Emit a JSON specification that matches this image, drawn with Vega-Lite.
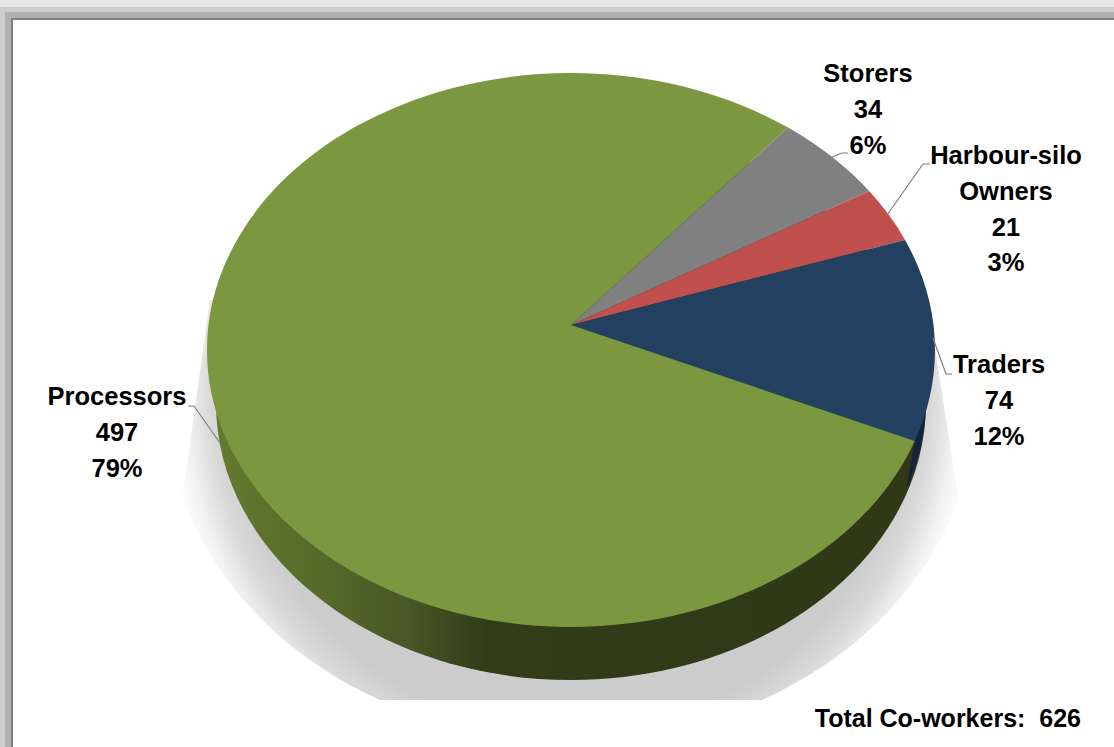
{
  "$schema": "https://vega.github.io/schema/vega-lite/v6.json",
  "width": 1114,
  "height": 747,
  "autosize": {"type": "fit", "contains": "padding"},
  "padding": 0,
  "background": "#ffffff",
  "config": {"view": {"stroke": null}},
  "data": {
    "values": [
      {"segment": "Storers", "count": 34, "share": 6, "order": 1},
      {"segment": "Harbour-silo Owners", "count": 21, "share": 3, "order": 2},
      {"segment": "Traders", "count": 74, "share": 12, "order": 3},
      {"segment": "Processors", "count": 497, "share": 79, "order": 4}
    ]
  },
  "transform": [
    {"joinaggregate": [{"op": "sum", "field": "count", "as": "total"}]},
    {"window": [{"op": "sum", "field": "count", "as": "cum"}], "sort": [{"field": "order", "order": "ascending"}]},
    {"calculate": "(50.2 - 360 * (datum.cum - datum.count) / datum.total) * PI / 180", "as": "t0"},
    {"calculate": "(50.2 - 360 * datum.cum / datum.total) * PI / 180", "as": "t1"},
    {"calculate": "round(3625000 * cos(datum.t0) / (1 + 0.0903 * sin(datum.t0))) / 10000", "as": "x0"},
    {"calculate": "round(-2747400 * sin(datum.t0) / (1 + 0.0903 * sin(datum.t0))) / 10000", "as": "y0"},
    {"calculate": "round(3625000 * cos(datum.t1) / (1 + 0.0903 * sin(datum.t1))) / 10000", "as": "x1"},
    {"calculate": "round(-2747400 * sin(datum.t1) / (1 + 0.0903 * sin(datum.t1))) / 10000", "as": "y1"},
    {"calculate": "'M0 0L' + datum.x0 + ' ' + datum.y0 + 'A364 277 0 ' + (datum.t0 - datum.t1 > PI ? 1 : 0) + ' 1 ' + datum.x1 + ' ' + datum.y1 + 'Z'", "as": "slicePath"},
    {"calculate": "{'Storers': 'M261 -168L271 -172L277 -172', 'Harbour-silo Owners': 'M316 -110L352 -161L359 -161', 'Traders': 'M362 13L375 49L381 49', 'Processors': 'M-351 118L-377 81L-383 81'}[datum.segment]", "as": "leaderPath"},
    {"calculate": "{'Storers': 297, 'Harbour-silo Owners': 435, 'Traders': 428, 'Processors': -454}[datum.segment]", "as": "labelX"},
    {"calculate": "{'Storers': -263, 'Harbour-silo Owners': -181, 'Traders': 28, 'Processors': 60}[datum.segment]", "as": "labelY"},
    {"calculate": "replace(datum.segment, ' ', '\\n') + '\\n' + datum.count + '\\n' + datum.share + '%'", "as": "label"}
  ],
  "layer": [
    {
      "description": "Soft ground shadow",
      "data": {"values": [{}]},
      "mark": {
        "type": "point", "size": 4, "filled": true, "opacity": 1,
        "shape": "M-405 75A405 340 0 1 1 405 75A405 340 0 1 1 -405 75Z",
        "fill": {"gradient": "radial", "x1": 0.5, "y1": 0.5, "r1": 0, "x2": 0.5, "y2": 0.5, "r2": 0.5,
          "stops": [{"offset": 0, "color": "#cccccc"}, {"offset": 0.82, "color": "#cccccc"}, {"offset": 0.89, "color": "#d9d9d9"}, {"offset": 0.95, "color": "#f2f2f2"}, {"offset": 1, "color": "#ffffff"}]}
      },
      "encoding": {
        "x": {"datum": 0, "type": "quantitative", "axis": null, "scale": {"domain": [-571, 543], "nice": false, "zero": false}},
        "y": {"datum": 0, "type": "quantitative", "axis": null, "scale": {"domain": [422, -325], "nice": false, "zero": false}}
      }
    },
    {
      "description": "Trims the shadow to its cone and its lower edge",
      "data": {"values": [{}]},
      "mark": {
        "type": "point", "size": 4, "filled": true, "opacity": 1, "fill": "#ffffff",
        "shape": "M-571 -325L543 -325L543 422L-571 422ZM-361 -25L-389 175L-389 375L389 375L387 172L362 10L354 -25Z"
      },
      "encoding": {"x": {"datum": 0, "type": "quantitative"}, "y": {"datum": 0, "type": "quantitative"}}
    },
    {
      "description": "Side wall of the pie",
      "data": {"values": [{}]},
      "mark": {
        "type": "point", "size": 4, "filled": true, "opacity": 1,
        "shape": "M-355 78A355 277 0 1 1 355 78A355 277 0 1 1 -355 78Z",
        "fill": {"gradient": "linear", "x1": 0, "y1": 0, "x2": 1, "y2": 0,
          "stops": [{"offset": 0, "color": "#647a30"}, {"offset": 0.16, "color": "#546829"}, {"offset": 0.27, "color": "#475726"}, {"offset": 0.38, "color": "#323c19"}, {"offset": 1, "color": "#2f3817"}]}
      },
      "encoding": {"x": {"datum": 0, "type": "quantitative"}, "y": {"datum": 0, "type": "quantitative"}}
    },
    {
      "description": "Side wall under the Traders slice",
      "data": {"values": [{}]},
      "mark": {
        "type": "point", "size": 4, "filled": true, "opacity": 1, "fill": "#12233f",
        "shape": "M344 115L335 165A355 277 0 0 0 355 78Z"
      },
      "encoding": {"x": {"datum": 0, "type": "quantitative"}, "y": {"datum": 0, "type": "quantitative"}}
    },
    {
      "description": "Top face slices, sized by head count",
      "mark": {"type": "point", "size": 4, "filled": true, "opacity": 1},
      "encoding": {
        "x": {"datum": 0, "type": "quantitative"},
        "y": {"datum": 0, "type": "quantitative"},
        "shape": {"field": "slicePath", "type": "nominal", "scale": null},
        "color": {
          "field": "segment", "type": "nominal", "legend": null,
          "scale": {
            "domain": ["Storers", "Harbour-silo Owners", "Traders", "Processors"],
            "range": ["#808080", "#c0504d", "#244061", "#7b973f"]
          }
        }
      }
    },
    {
      "description": "Leader lines",
      "mark": {"type": "point", "size": 4, "filled": false, "opacity": 1, "stroke": "#7f7f7f", "strokeWidth": 1.2},
      "encoding": {
        "x": {"datum": 0, "type": "quantitative"},
        "y": {"datum": 0, "type": "quantitative"},
        "shape": {"field": "leaderPath", "type": "nominal", "scale": null}
      }
    },
    {
      "description": "Slice labels",
      "mark": {"type": "text", "font": "Liberation Sans", "fontWeight": "bold", "fontSize": 25.5, "lineHeight": 35.8, "lineBreak": "\n", "align": "center", "baseline": "top", "color": "#000000"},
      "encoding": {
        "x": {"field": "labelX", "type": "quantitative"},
        "y": {"field": "labelY", "type": "quantitative"},
        "text": {"field": "label", "type": "nominal"}
      }
    },
    {
      "description": "Total head count",
      "data": {"values": [{"note": "Total Co-workers:\u00a0 626"}]},
      "mark": {"type": "text", "font": "Liberation Sans", "fontWeight": "bold", "fontSize": 25, "align": "right", "baseline": "alphabetic", "color": "#000000"},
      "encoding": {
        "x": {"datum": 510, "type": "quantitative"},
        "y": {"datum": 402, "type": "quantitative"},
        "text": {"field": "note", "type": "nominal"}
      }
    },
    {
      "description": "Inset frame, top band",
      "data": {"values": [{}]},
      "mark": {"type": "point", "size": 4, "filled": true, "opacity": 1, "fill": "#e7e7e7", "shape": "M-571 -325L543 -325L543 -318L-571 -318Z"},
      "encoding": {"x": {"datum": 0, "type": "quantitative"}, "y": {"datum": 0, "type": "quantitative"}}
    },
    {
      "data": {"values": [{}]},
      "mark": {"type": "point", "size": 4, "filled": true, "opacity": 1, "fill": "#cdcdcd", "shape": "M-571 -318L543 -318L543 -313L-566 -313L-566 422L-571 422Z"},
      "encoding": {"x": {"datum": 0, "type": "quantitative"}, "y": {"datum": 0, "type": "quantitative"}}
    },
    {
      "data": {"values": [{}]},
      "mark": {"type": "point", "size": 4, "filled": true, "opacity": 1, "fill": "#b0b0b0", "shape": "M-566 -313L543 -313L543 -307L-560 -307L-560 422L-566 422Z"},
      "encoding": {"x": {"datum": 0, "type": "quantitative"}, "y": {"datum": 0, "type": "quantitative"}}
    },
    {
      "data": {"values": [{}]},
      "mark": {"type": "point", "size": 4, "filled": true, "opacity": 1, "fill": "#808080", "shape": "M-560 -307L543 -307L543 -305L-558 -305L-558 422L-560 422Z"},
      "encoding": {"x": {"datum": 0, "type": "quantitative"}, "y": {"datum": 0, "type": "quantitative"}}
    }
  ]
}
